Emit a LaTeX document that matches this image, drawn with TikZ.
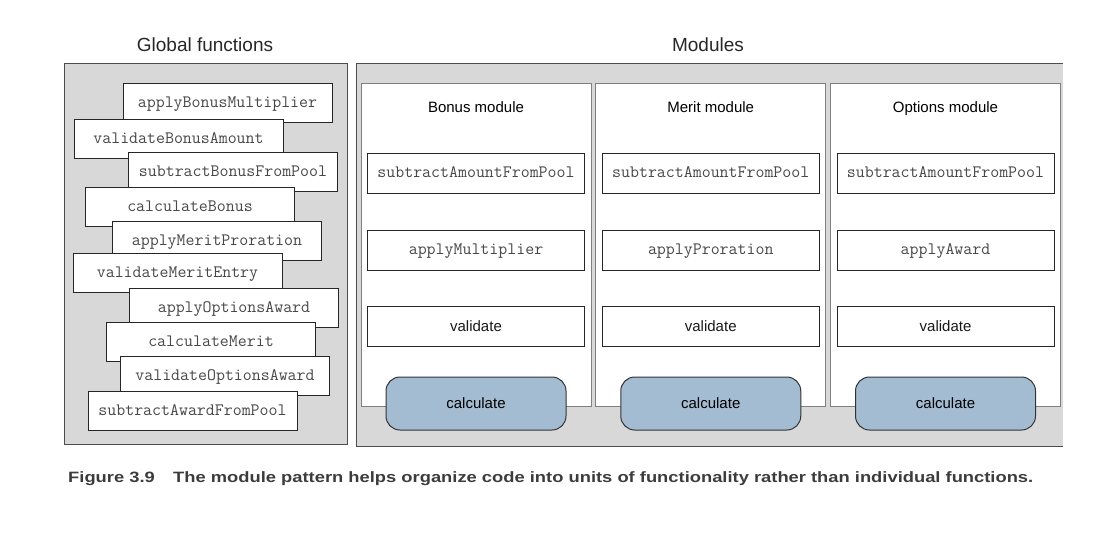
\documentclass[tikz,border=0pt]{standalone}
\usepackage{fontspec}
\usepackage{graphicx}
\setmainfont{Liberation Sans}
\usetikzlibrary{positioning}

\definecolor{panelgray}{RGB}{216,216,216}
\definecolor{calcblue}{RGB}{164,188,210}
\definecolor{codegray}{RGB}{72,72,72}
\definecolor{captiongray}{RGB}{60,60,60}

\tikzset{
  panel/.style={draw=black!70, fill=panelgray, line width=1pt},
  modbox/.style={draw=black!50, fill=white, line width=0.8pt, inner sep=0pt,
    minimum width=230pt, minimum height=323pt},
  fnbox/.style={draw=black!85, fill=white, line width=1pt, inner sep=0pt,
    minimum width=209pt, minimum height=39pt, text height=12pt, text depth=3pt,
    font=\fontsize{17.4}{20}\selectfont\ttfamily, text=codegray},
  membox/.style={fnbox, minimum width=217pt, minimum height=40pt},
  calcbox/.style={draw=black!80, fill=calcblue, line width=1pt, rounded corners=14pt,
    minimum width=180pt, minimum height=53pt, text height=13pt, text depth=3pt,
    font=\fontsize{15}{18}\selectfont},
  heading/.style={font=\fontsize{19}{22}\selectfont, text=black!85},
  modtitle/.style={font=\fontsize{15}{18}\selectfont, text height=13pt, text depth=3pt}
}

\begin{document}
\begin{tikzpicture}[x=1pt, y=-1pt]
  \useasboundingbox (0,0) rectangle (1118,538);

  % Headings
  \node[heading] (globaltitle) at (205,45) {Global functions};
  \node[heading] (modtitle) at (708,45) {Modules};

  % Global functions panel
  \node[panel, minimum width=283pt, minimum height=381pt] (globals) at (205.5,254) {};
  \node[fnbox] (f1) at (227.5,103) {applyBonusMultiplier};
  \node[fnbox] (f2) at (178.5,138.5) {validateBonusAmount};
  \node[fnbox] (f3) at (233,172) {subtractBonusFromPool};
  \node[fnbox] (f4) at (190,206.5) {calculateBonus};
  \node[fnbox] (f5) at (217,240.5) {applyMeritProration};
  \node[fnbox] (f6) at (177.5,272.5) {validateMeritEntry};
  \node[fnbox] (f7) at (234,308) {applyOptionsAward};
  \node[fnbox] (f8) at (211,342) {calculateMerit};
  \node[fnbox] (f9) at (225,376) {validateOptionsAward};
  \node[fnbox] (f10) at (192.5,410.5) {subtractAwardFromPool};

  % Modules panel (open on the right)
  \fill[panelgray] (356,63) rectangle (1063,446);
  \draw[black!70, line width=1pt] (1063,63) -- (356,63) -- (356,446) -- (1063,446);

  % One column per module
  \foreach \name/\title/\apply [count=\i] in
      {bonus/Bonus module/applyMultiplier,
       merit/Merit module/applyProration,
       opts/Options module/applyAward}{
    \pgfmathsetmacro{\cx}{476+(\i-1)*234.75}
    \node[modbox] (\name) at (\cx,244.5) {};
    \node[modtitle] (\name-title) at (\cx,107) {\title};
    \node[membox] (\name-sub) at (\cx,173) {subtractAmountFromPool};
    \node[membox] (\name-apply) at (\cx,250) {\apply};
    \node[membox, font=\fontsize{15}{18}\selectfont, text=black!90,
          text height=13pt] (\name-val) at (\cx,326.5) {validate};
    \node[calcbox] (\name-calc) at (\cx,403.5) {calculate};
  }

  % Caption
  \node[anchor=west, inner sep=0pt, text=captiongray,
        font=\fontsize{15}{18}\selectfont\bfseries] (caption) at (68,479)
    {\resizebox{965pt}{\height}{Figure 3.9\hspace{1em}The module pattern helps organize code into units of functionality rather than individual functions.}};
\end{tikzpicture}
\end{document}
